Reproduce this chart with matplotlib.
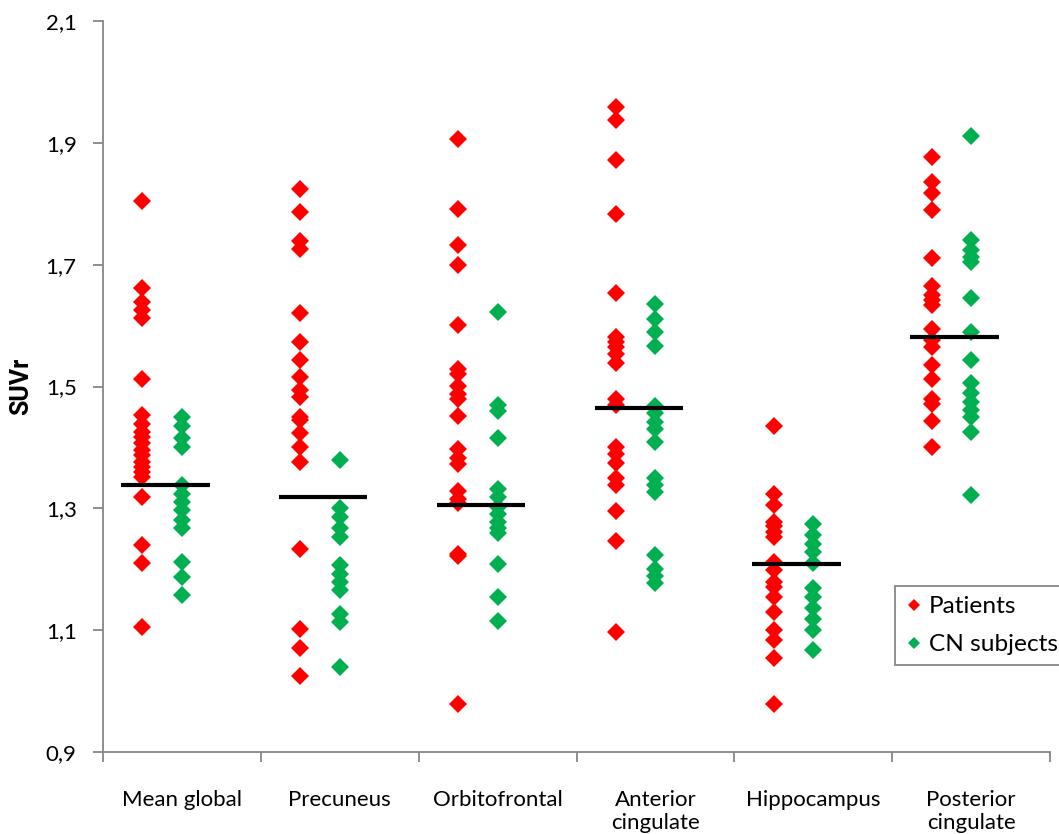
import numpy as np
import matplotlib.pyplot as plt

plt.rcParams['font.family'] = ['Lato', 'DejaVu Sans']

regions = ["Mean global", "Precuneus", "Orbitofrontal",
           "Anterior\ncingulate", "Hippocampus", "Posterior\ncingulate"]

# SUVr values, one list per region
patients_mean_global = [1.805, 1.661, 1.639, 1.625, 1.612, 1.512, 1.453, 1.439,
                        1.426, 1.417, 1.407, 1.396, 1.387, 1.376, 1.368, 1.360,
                        1.351, 1.319, 1.240, 1.210, 1.105]
patients_precuneus = [1.824, 1.787, 1.739, 1.725, 1.620, 1.573, 1.543, 1.516,
                      1.494, 1.483, 1.450, 1.445, 1.423, 1.401, 1.376, 1.234,
                      1.102, 1.070, 1.025]
patients_orbitofrontal = [1.906, 1.791, 1.732, 1.700, 1.601, 1.529, 1.520, 1.501,
                          1.488, 1.479, 1.451, 1.397, 1.382, 1.372, 1.328, 1.315,
                          1.309, 1.225, 1.221, 0.979]
patients_anterior = [1.959, 1.938, 1.872, 1.783, 1.654, 1.582, 1.573, 1.565,
                     1.553, 1.538, 1.479, 1.470, 1.400, 1.389, 1.374, 1.350,
                     1.339, 1.295, 1.247, 1.097]
patients_hippocampus = [1.435, 1.324, 1.305, 1.278, 1.271, 1.261, 1.253, 1.212,
                        1.199, 1.179, 1.171, 1.155, 1.130, 1.100, 1.084, 1.055,
                        0.978]
patients_posterior = [1.877, 1.836, 1.817, 1.790, 1.711, 1.665, 1.650, 1.642,
                      1.634, 1.595, 1.576, 1.565, 1.535, 1.513, 1.480, 1.472,
                      1.443, 1.401]

cn_mean_global = [1.450, 1.435, 1.415, 1.400, 1.338, 1.324, 1.311, 1.297,
                  1.281, 1.267, 1.212, 1.188, 1.157]
cn_precuneus = [1.380, 1.300, 1.286, 1.267, 1.253, 1.207, 1.193, 1.179,
                1.166, 1.127, 1.114, 1.040]
cn_orbitofrontal = [1.623, 1.469, 1.460, 1.416, 1.331, 1.318, 1.303, 1.290,
                    1.278, 1.268, 1.259, 1.209, 1.155, 1.115]
cn_anterior = [1.635, 1.611, 1.590, 1.567, 1.468, 1.456, 1.441, 1.430,
               1.409, 1.350, 1.339, 1.327, 1.224, 1.201, 1.189, 1.177]
cn_hippocampus = [1.274, 1.256, 1.242, 1.229, 1.211, 1.170, 1.155, 1.136,
                  1.119, 1.100, 1.068]
cn_posterior = [1.912, 1.740, 1.724, 1.713, 1.705, 1.646, 1.590, 1.544,
                1.506, 1.489, 1.475, 1.461, 1.450, 1.426, 1.322]

group_means = [1.339, 1.318, 1.306, 1.465, 1.208, 1.582]

patients = [patients_mean_global, patients_precuneus, patients_orbitofrontal,
            patients_anterior, patients_hippocampus, patients_posterior]
cn_subjects = [cn_mean_global, cn_precuneus, cn_orbitofrontal,
               cn_anterior, cn_hippocampus, cn_posterior]

RED = "#FF0000"
GREEN = "#00B050"
AXIS_GRAY = "#868686"

fig = plt.figure(figsize=(10.59, 8.34), dpi=100)
ax = fig.add_axes([103 / 1059, 1 - 752 / 834, 947 / 1059, 731 / 834])

for i, (pat, cn) in enumerate(zip(patients, cn_subjects)):
    x = i + 1
    ax.plot(np.full(len(pat), x - 0.25), pat, "D", color=RED, ms=9, mew=0,
            label="Patients" if i == 0 else None, zorder=2)
    ax.plot(np.full(len(cn), x), cn, "D", color=GREEN, ms=9, mew=0,
            label="CN subjects" if i == 0 else None, zorder=2)
    ax.plot([x - 0.385, x + 0.175], [group_means[i]] * 2, color="black",
            lw=3, solid_capstyle="butt", zorder=3)

ax.set_xlim(0.5, 6.5)
ax.set_ylim(0.9, 2.1)

yticks = np.arange(0.9, 2.11, 0.2)
ax.set_yticks(yticks)
ax.set_yticklabels([f"{v:.1f}".replace(".", ",") for v in yticks])
ax.set_xticks(range(1, 7))
ax.set_xticklabels(regions)
ax.set_xticks(np.arange(0.5, 6.6, 1), minor=True)

ax.tick_params(axis="x", which="major", length=0, pad=27, labelsize=16)
ax.tick_params(axis="x", which="minor", length=7, width=1.3, color=AXIS_GRAY)
ax.tick_params(axis="y", length=7, width=1.3, color=AXIS_GRAY, pad=12,
               labelsize=16)

for side in ["top", "right"]:
    ax.spines[side].set_visible(False)
for side in ["left", "bottom"]:
    ax.spines[side].set_color(AXIS_GRAY)
    ax.spines[side].set_linewidth(1.3)

ax.set_ylabel("SUVr", fontsize=18, fontweight="bold", labelpad=9,
              family=["Roboto", "DejaVu Sans"])

leg = ax.legend(loc="upper left", bbox_to_anchor=(895 / 1059, 1 - 586 / 834),
                bbox_transform=fig.transFigure, borderaxespad=0,
                fontsize=17.6, markerscale=0.72, handlelength=0.71,
                handletextpad=0.25, borderpad=0.42, labelspacing=0.68,
                fancybox=False, framealpha=1)
leg.get_frame().set_edgecolor(AXIS_GRAY)
leg.get_frame().set_linewidth(1.3)

fig.savefig("out.png", dpi=100)
